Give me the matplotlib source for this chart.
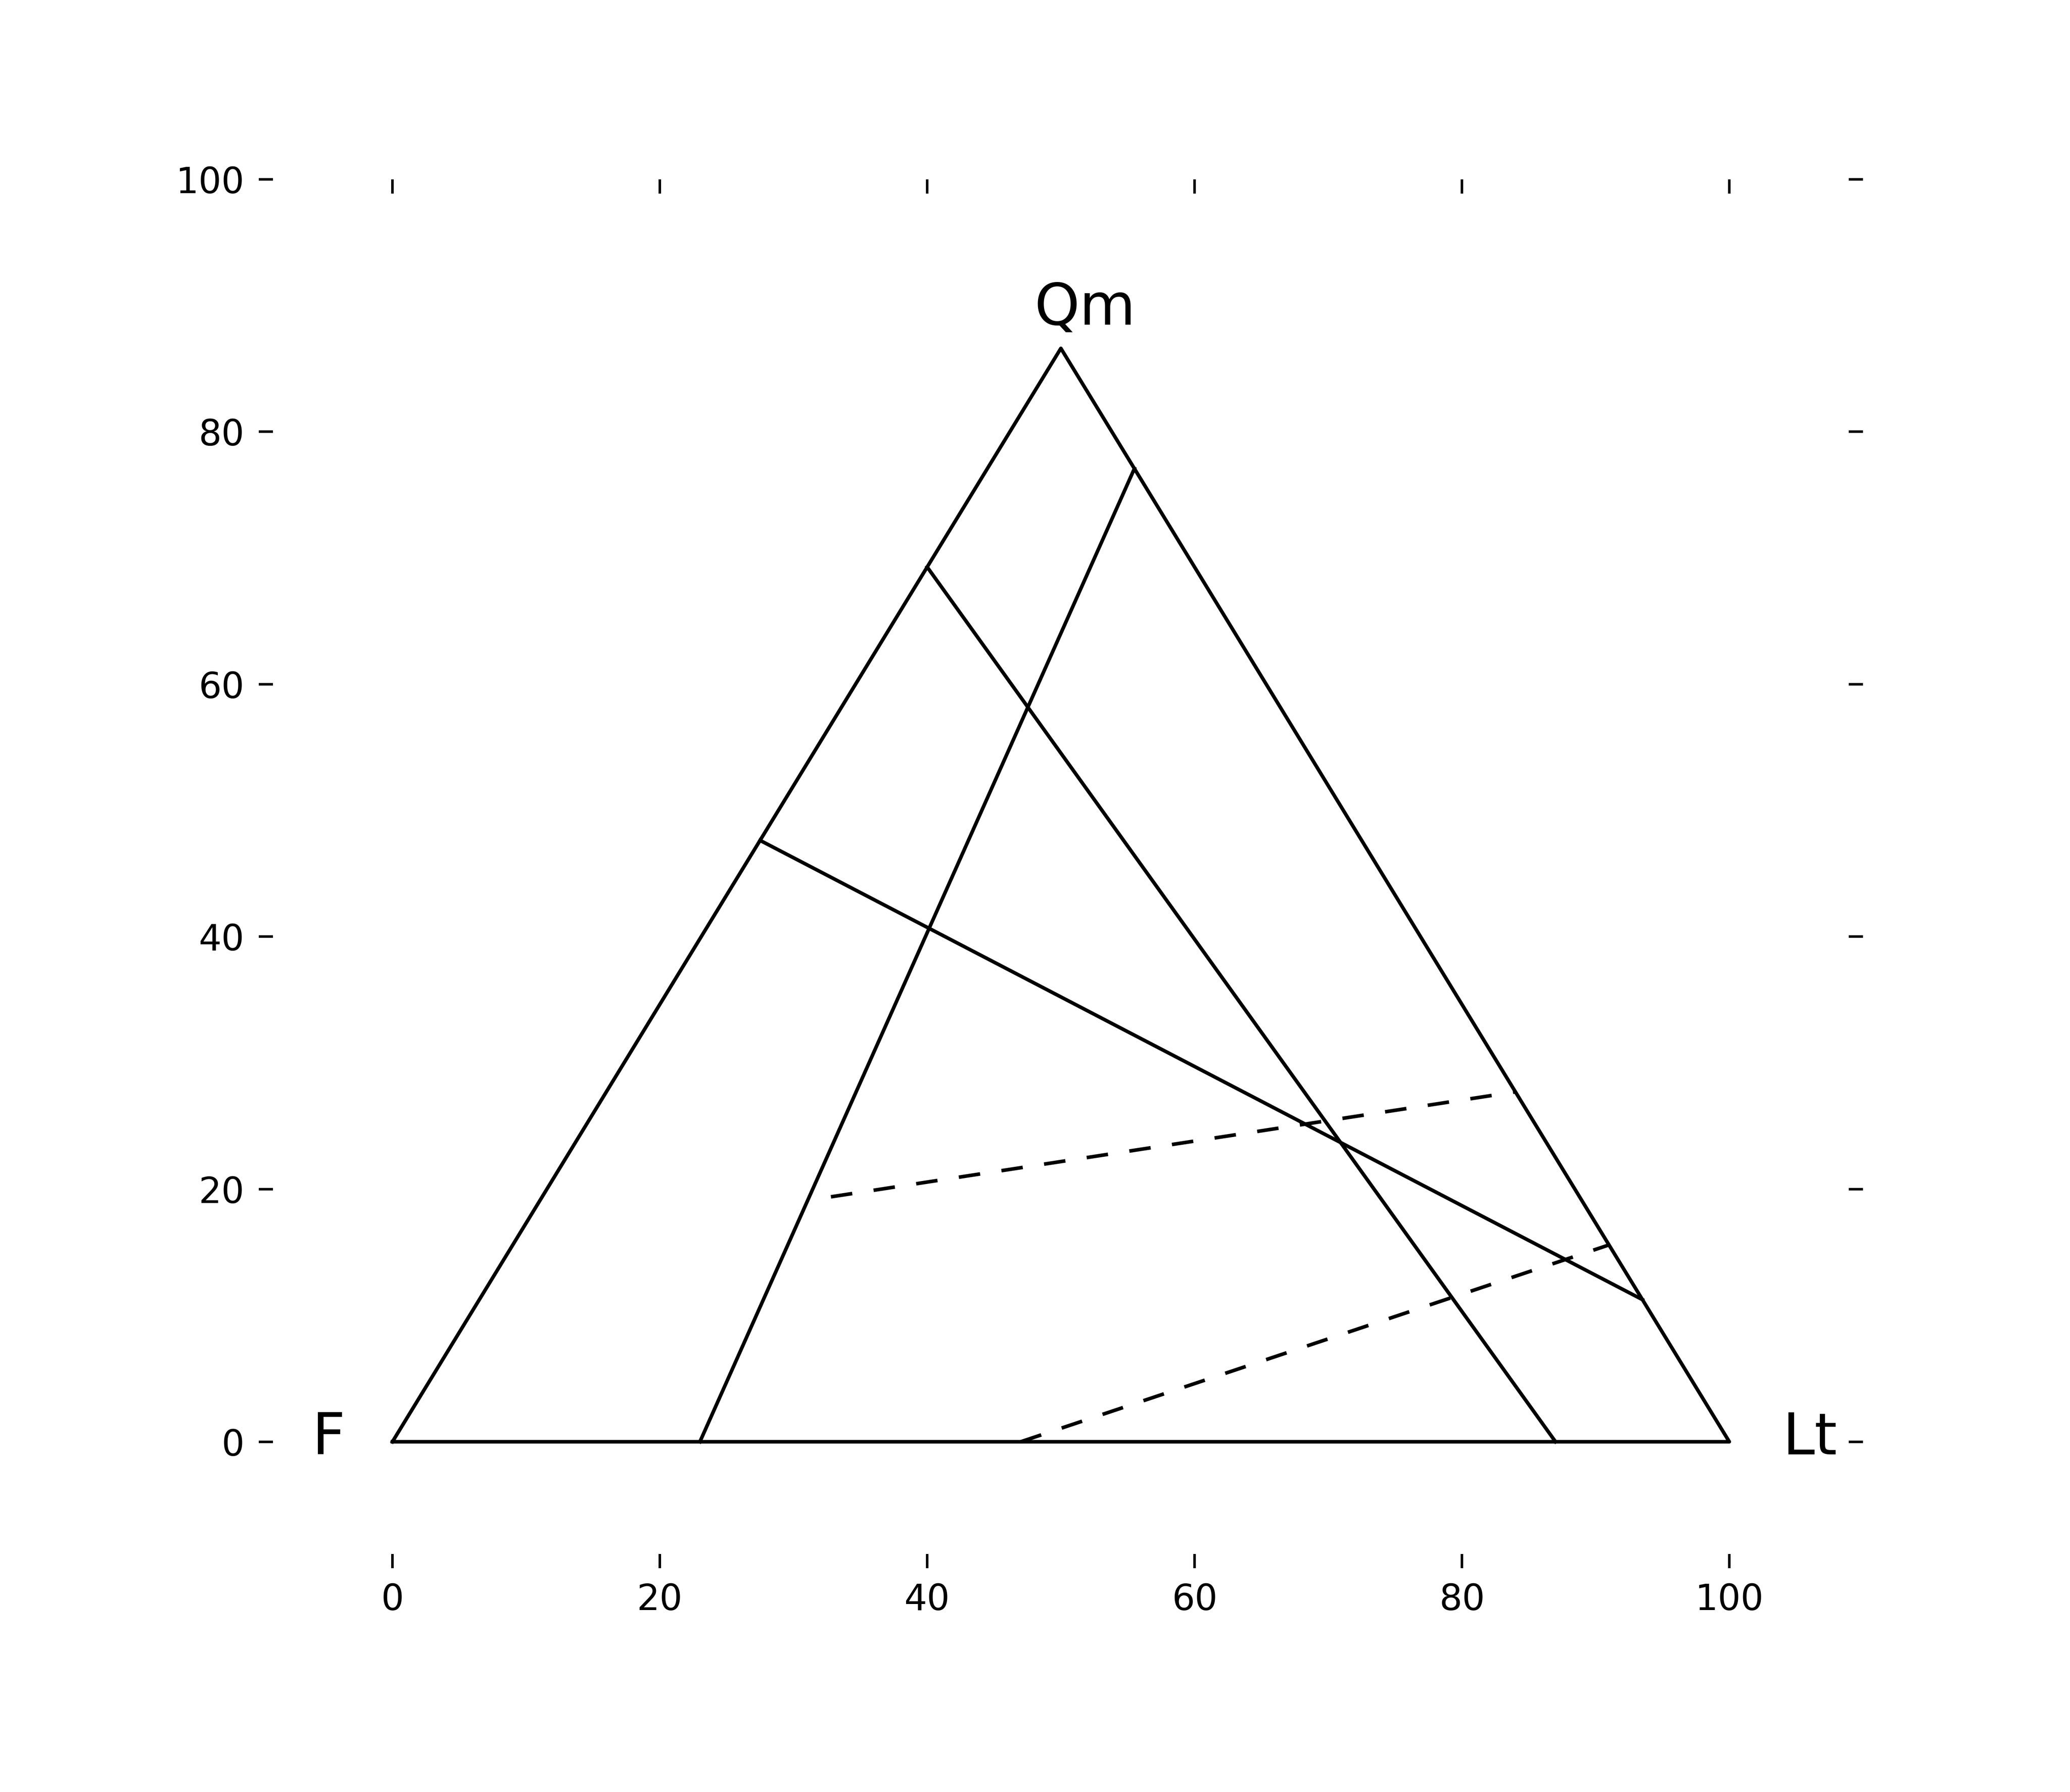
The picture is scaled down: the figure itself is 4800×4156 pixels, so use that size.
import matplotlib
matplotlib.use('Agg')
import matplotlib.pyplot as plt
import numpy as np

# ternary end members, percent (Qm, Lt; F = 100 - Qm - Lt)
tri_qm = [0, 0, 100, 0]
tri_lt = [0, 100, 0, 0]

# solid field boundaries
line_a_qm = [80, 0]
line_a_lt = [0, 87]
line_b_qm = [0, 89]
line_b_lt = [23, 11]
line_c_qm = [55, 13]
line_c_lt = [0, 87]

# dashed boundaries
line_d_qm = [22.4, 32]
line_d_lt = [21.6, 68]
line_e_qm = [0, 18]
line_e_lt = [47, 82]

apex_labels = ['Qm', 'F', 'Lt']
ticks = [0, 20, 40, 60, 80, 100]


def to_xy(qm, lt):
    qm = np.asarray(qm, dtype=float)
    lt = np.asarray(lt, dtype=float)
    return lt + qm / 2.0, qm * np.sqrt(3) / 2.0


fig = plt.figure(figsize=(8, 4156 / 600))
fig.subplots_adjust(left=0.125, right=0.9, bottom=0.125, top=0.9)
ax = fig.add_subplot(111)

x, y = to_xy(tri_qm, tri_lt)
ax.plot(x, y, color='k', lw=1.0)

for qm, lt in [(line_a_qm, line_a_lt), (line_b_qm, line_b_lt), (line_c_qm, line_c_lt)]:
    x, y = to_xy(qm, lt)
    ax.plot(x, y, color='k', lw=1.0)

for qm, lt in [(line_d_qm, line_d_lt), (line_e_qm, line_e_lt)]:
    x, y = to_xy(qm, lt)
    ax.plot(x, y, color='k', lw=1.0, linestyle=(0, (6, 6)))

#-------------- apex labels
ax.text(48.0, 88.5, apex_labels[0], fontsize=16)
ax.text(-6.0, -1.0, apex_labels[1], fontsize=16)
ax.text(104.0, -1.0, apex_labels[2], fontsize=16)

ax.set_xlim(-10, 110)
ax.set_ylim(-10, 100)
ax.set_xticks(ticks)
ax.set_yticks(ticks)
ax.tick_params(direction='in', length=4, width=0.7, labelsize=10, pad=4,
               top=True, right=True)
for s in ax.spines.values():
    s.set_visible(False)

plt.savefig('out.png', dpi=600, facecolor='white')
